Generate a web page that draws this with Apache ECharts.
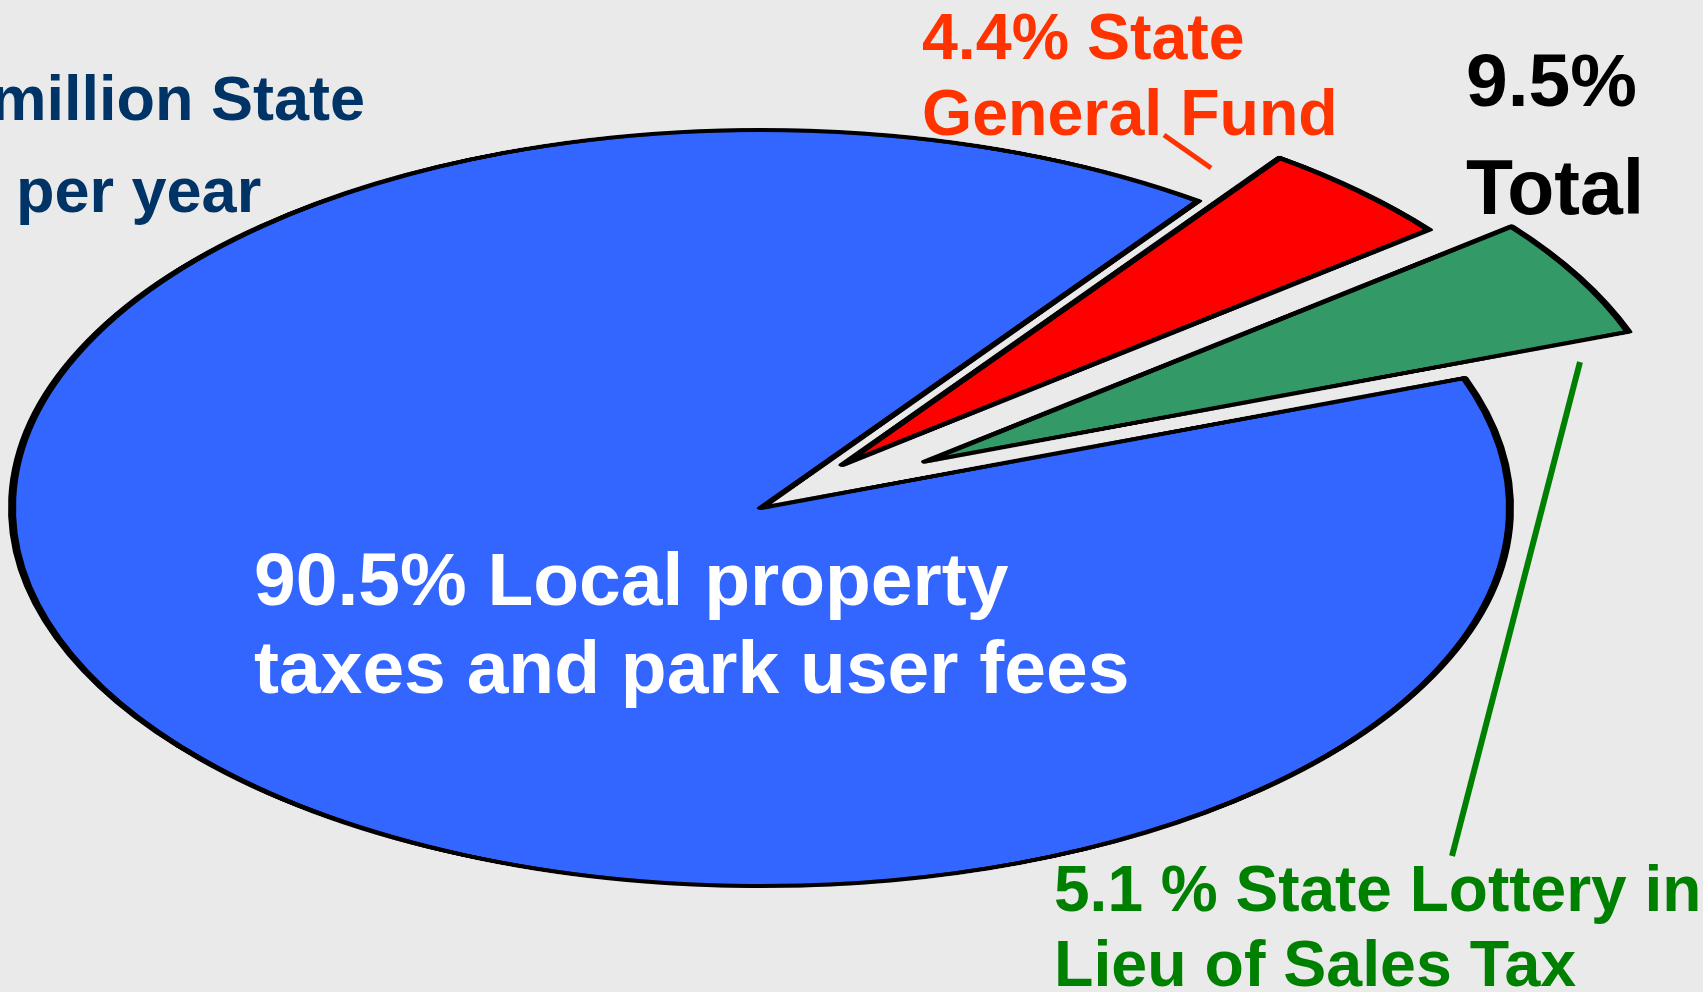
<!DOCTYPE html>
<html>
<head>
<meta charset="utf-8">
<script src="https://cdn.jsdelivr.net/npm/echarts@6/dist/echarts.min.js"></script>
<style>
  html, body { margin: 0; padding: 0; background: #eaeaea; overflow: hidden; }
  #wrap { position: relative; width: 1703px; height: 992px; overflow: hidden; }
  /* pie is drawn as a circle, then squashed into the ellipse */
  #pie {
    position: absolute; left: 0; top: -292px; width: 1703px; height: 1600px;
    transform-origin: 0 800px; transform: scaleY(0.5047);
  }
  #txt { position: absolute; left: 0; top: 0; width: 1703px; height: 992px; }
</style>
</head>
<body>
<div id="wrap">
  <div id="pie"></div>
  <div id="txt"></div>
</div>
<script>
// data
const sliceNames = ['4.4% State General Fund', '5.1 % State Lottery in Lieu of Sales Tax', '90.5% Local property taxes and park user fees'];
const sliceValues = [4.4, 5.1, 90.5];

// text blocks
const stateLines = ['million State', 'per year'];
const fundLines = ['4.4% State', 'General Fund'];
const totalLines = ['9.5%', 'Total'];
const localLines = ['90.5% Local property', 'taxes and park user fees'];
const lotteryLines = ['5.1 % State Lottery in', 'Lieu of Sales Tax'];

// styles
const sliceColors = ['#ff0000', '#339966', '#3366ff'];
const explode = [118, 188, 0];

var pie = echarts.init(document.getElementById('pie'), null, { renderer: 'canvas' });

var series = [2, 0, 1].map(function (k) {
    return {
        type: 'pie',
        center: [761, 800],
        radius: [0, 749],
        startAngle: 54.3,
        clockwise: true,
        silent: true,
        selectedMode: 'multiple',
        selectedOffset: explode[k],
        avoidLabelOverlap: false,
        label: { show: false },
        labelLine: { show: false },
        emphasis: { disabled: true },
        data: sliceValues.map(function (v, i) {
            return {
                name: sliceNames[i],
                value: v,
                selected: i === k && explode[k] > 0,
                itemStyle: i === k
                    ? { color: sliceColors[i], borderColor: '#000', borderWidth: 8, borderJoin: 'round' }
                    : { color: 'rgba(0,0,0,0)', borderWidth: 0 }
            };
        })
    };
});

pie.setOption({ animation: false, series: series });

var txt = echarts.init(document.getElementById('txt'), null, { renderer: 'canvas' });

function textEl(str, x, y, size, color, align) {
    return {
        type: 'text', x: x, y: y, silent: true,
        style: {
            text: str, fill: color,
            font: 'bold ' + size + 'px "Liberation Sans", Arial, sans-serif',
            align: align || 'left', verticalAlign: 'middle',
            textAlign: align || 'left', textVerticalAlign: 'middle'
        }
    };
}

var els = [
    textEl(stateLines[0], 365, 103, 63, '#003366', 'right'),
    textEl(stateLines[1], 16, 195, 63, '#003366'),
    textEl(fundLines[0], 922, 41, 64.5, '#ff3300'),
    textEl(fundLines[1], 922, 117, 64.5, '#ff3300'),
    textEl(totalLines[0], 1466, 85, 75, '#000000'),
    textEl(totalLines[1], 1466, 193, 77, '#000000'),
    textEl(localLines[0], 254, 584, 75, '#ffffff'),
    textEl(localLines[1], 254, 672, 75, '#ffffff'),
    textEl(lotteryLines[0], 1054, 893, 64, '#008000'),
    textEl(lotteryLines[1], 1054, 968, 64.5, '#008000'),
    {
        type: 'line', silent: true,
        shape: { x1: 1164, y1: 135, x2: 1211, y2: 168 },
        style: { stroke: '#ff3300', lineWidth: 5 }
    },
    {
        type: 'line', silent: true,
        shape: { x1: 1580, y1: 362, x2: 1452, y2: 856 },
        style: { stroke: '#008000', lineWidth: 6 }
    }
];

txt.setOption({ animation: false, graphic: { elements: els } });
</script>
</body>
</html>
